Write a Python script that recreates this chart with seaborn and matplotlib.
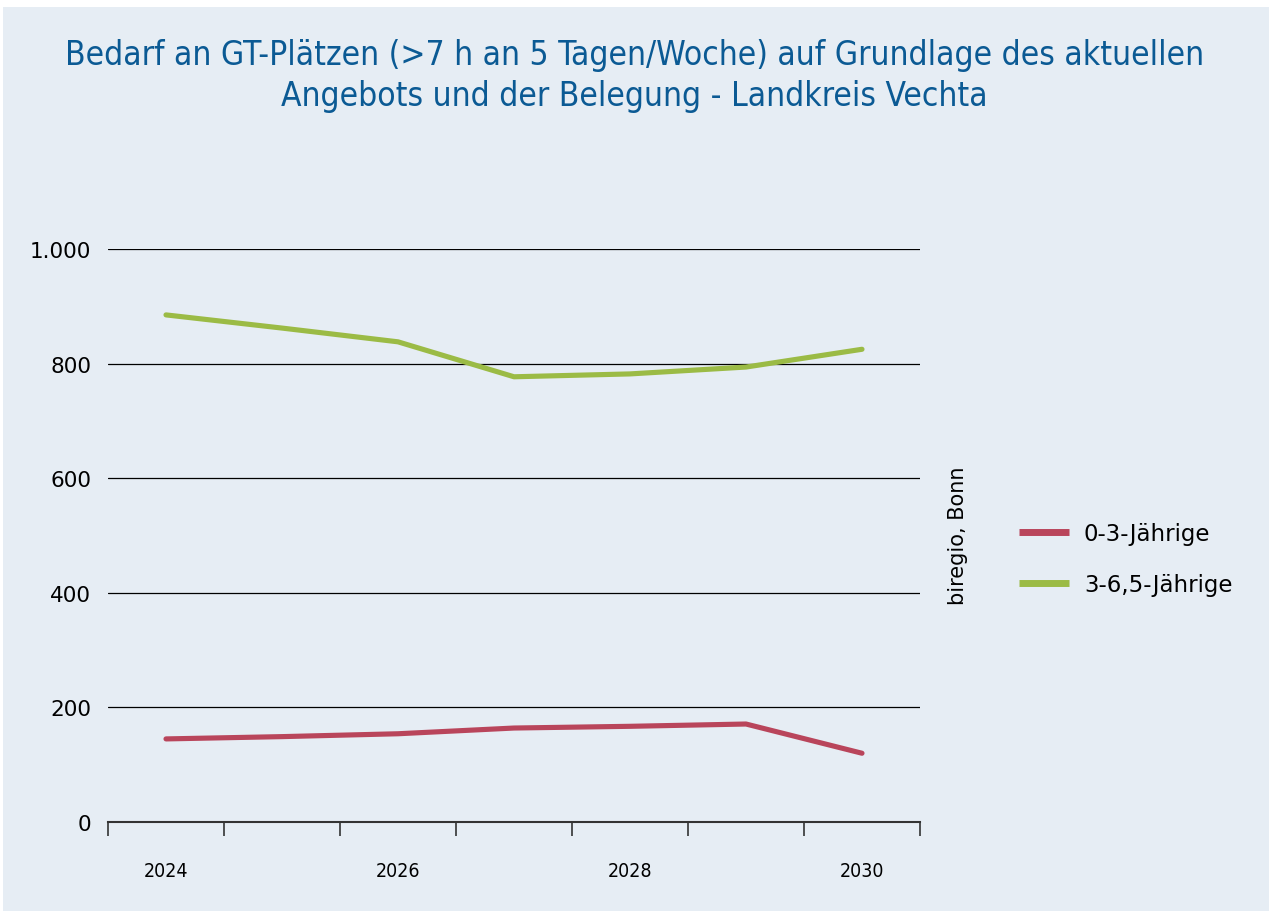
import matplotlib
matplotlib.use("Agg")
import matplotlib.pyplot as plt
import matplotlib.patches as mpatches
import seaborn as sns
import pandas as pd

years = ["2024", "2025", "2026", "2027", "2028", "2029", "2030"]
tick_years = ["2024", "", "2026", "", "2028", "", "2030"]
u3 = [145, 149, 154, 164, 167, 171, 120]
ue3 = [885, 862, 838, 777, 782, 794, 825]
series_names = ["0-3-Jährige", "3-6,5-Jährige"]
colors = ["#B9455B", "#9BBB45"]
y_ticks = [0, 200, 400, 600, 800, 1000]
y_labels = ["0", "200", "400", "600", "800", "1.000"]

title = ("Bedarf an GT-Plätzen (>7 h an 5 Tagen/Woche) auf Grundlage des aktuellen\n"
         "Angebots und der Belegung - Landkreis Vechta")
source = "biregio, Bonn"

bg = "#E6EDF4"

df = pd.DataFrame({
    "Jahr": years * 2,
    "Wert": u3 + ue3,
    "Gruppe": [series_names[0]] * len(years) + [series_names[1]] * len(years),
})
df["pos"] = list(range(len(years))) * 2

sns.set_theme(style="white")
plt.rcParams["font.family"] = ["DejaVu Sans"]

W, H = 1269, 912
fig = plt.figure(figsize=(W / 100, H / 100), dpi=100, facecolor="white")
fig.patches.append(mpatches.Rectangle((3 / W, 0), 1 - 3 / W, 1 - 8 / H,
                                      transform=fig.transFigure, facecolor=bg,
                                      edgecolor="none", zorder=0))

ax = fig.add_axes([108 / W, 89 / H, 812 / W, 573 / H])
ax.set_zorder(2)
ax.patch.set_alpha(0)

sns.lineplot(data=df, x="pos", y="Wert", hue="Gruppe", palette=colors,
             linewidth=3.7, ax=ax, legend=False, zorder=3)
for ln in ax.lines:
    ln.set_solid_capstyle("round")

ax.set_xlim(-0.5, len(years) - 0.5)
ax.set_ylim(0, 1000)
ax.set_xlabel("")
ax.set_ylabel("")

# horizontal gridlines
for v in y_ticks[1:]:
    ax.axhline(v, color="black", linewidth=0.9, zorder=1)

ax.set_yticks(y_ticks)
ax.set_yticklabels(y_labels, fontsize=15.5, color="black")
ax.tick_params(axis="y", length=0, pad=12)

# category boundary ticks on bottom axis
ax.set_xticks([i - 0.5 for i in range(len(years) + 1)], minor=False)
ax.set_xticklabels([""] * (len(years) + 1))
ax.tick_params(axis="x", which="major", direction="out", length=10, width=1.2,
               color="#333333", bottom=True)
ax.set_xticks(range(len(years)), minor=True)
ax.set_xticklabels(tick_years, minor=True, fontsize=14,
                   fontstretch="condensed", color="black")
ax.tick_params(axis="x", which="minor", length=0, pad=28)

for s in ["left", "right", "top"]:
    ax.spines[s].set_visible(False)
ax.spines["bottom"].set_color("#333333")
ax.spines["bottom"].set_linewidth(1.5)

fig.text(0.5, 1 - 76 / H, title, ha="center", va="center", fontsize=24,
         color="#0B5A94", fontstretch="condensed", linespacing=1.28)

fig.text(958 / W, 1 - 536 / H, source, rotation=90, ha="center", va="center",
         fontsize=15, color="black")

handles = [plt.Line2D([], [], color=c, linewidth=5, solid_capstyle="butt")
           for c in colors]
leg = fig.legend(handles, series_names, loc="center left",
                 bbox_to_anchor=(998 / W, 1 - 560 / H), frameon=False,
                 fontsize=16.5, handlelength=2.2, labelspacing=1.2,
                 handletextpad=0.65)
for t in leg.get_texts():
    t.set_color("black")

fig.savefig("out.png", dpi=100, facecolor="white")
